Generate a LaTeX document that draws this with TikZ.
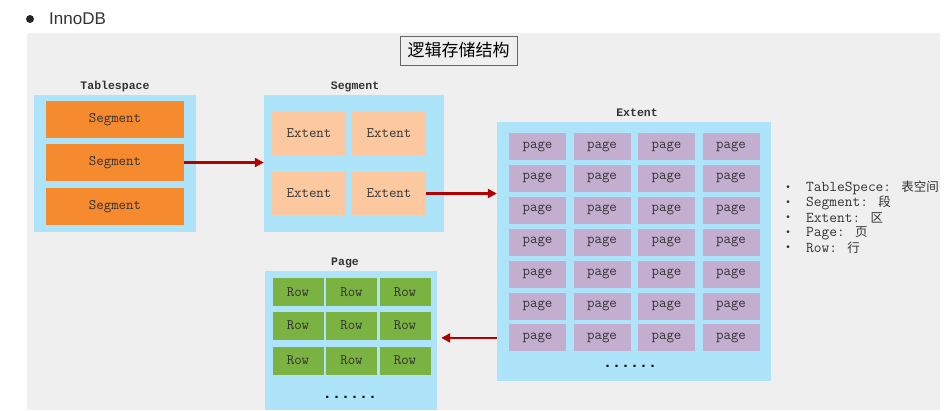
\documentclass[tikz,border=0pt]{standalone}
\usepackage{fontspec}
\setmainfont{Liberation Sans}
\newfontfamily\cjk{Noto Sans CJK SC}
\newfontfamily\mono{Liberation Mono}
\newfontfamily\serifmono{Latin Modern Mono}
\usetikzlibrary{arrows.meta}
\definecolor{panelgray}{HTML}{EFEFEF}
\definecolor{contblue}{HTML}{AEE4FA}
\definecolor{segorange}{HTML}{F58A2F}
\definecolor{extpeach}{HTML}{FCC8A0}
\definecolor{pagelav}{HTML}{C4AECF}
\definecolor{rowgreen}{HTML}{7AB342}
\definecolor{arrowred}{HTML}{B30000}
\definecolor{txtdark}{HTML}{333333}
\tikzset{
  cont/.style={fill=contblue, draw=none, inner sep=0pt},
  cell/.style={draw=none, inner sep=0pt, font=\serifmono\fontsize{14.5}{16}\selectfont, text=txtdark},
  segbox/.style={cell, fill=segorange, minimum width=138pt, minimum height=37pt},
  extbox/.style={cell, fill=extpeach, minimum width=74pt, minimum height=43pt},
  pagebox/.style={cell, fill=pagelav, minimum width=57pt, minimum height=27pt},
  rowbox/.style={cell, fill=rowgreen, minimum width=51pt, minimum height=28pt},
  lbl/.style={font=\mono\bfseries\fontsize{11.5}{13}\selectfont, text=txtdark, inner sep=0pt},
  dots/.style={font=\mono\bfseries\fontsize{15}{16}\selectfont, inner sep=0pt},
  flow/.style={draw=arrowred, line width=2.5pt, -{Triangle[length=9pt,width=9pt]}},
  leg/.style={anchor=west, inner sep=0pt, font=\serifmono\fontsize{15}{16}\selectfont, text=txtdark},
  legdot/.style={inner sep=0pt, font=\fontsize{10}{12}\selectfont, text=txtdark}
}
\begin{document}
\begin{tikzpicture}[x=1pt,y=-1pt]
\useasboundingbox (0,0) rectangle (950,410);
\fill[white] (0,0) rectangle (950,410);
\fill[panelgray] (27,33) rectangle (940,410);

% header
\fill[black!85] (30,19) circle (4pt);
\node[anchor=west, inner sep=0pt, font=\fontsize{17}{19}\selectfont, text=black!80] (hdr) at (49,19) {InnoDB};

% title
\node[draw=black!60, line width=0.8pt, fill=panelgray, minimum width=117pt, minimum height=29pt, inner sep=0pt, font=\cjk\fontsize{17}{19}\selectfont] (title) at (458.5,50.5) {逻辑存储结构};

% Tablespace
\node[cont, minimum width=162pt, minimum height=137pt] (ts) at (115,163.5) {};
\node[lbl] (tslbl) at (115,87) {Tablespace};
\node[segbox] (s1) at (115,119.5) {Segment};
\node[segbox] (s2) at (115,162.5) {Segment};
\node[segbox] (s3) at (115,206.5) {Segment};

% Segment
\node[cont, minimum width=180pt, minimum height=137pt] (sg) at (354,163.5) {};
\node[lbl] (sglbl) at (355,87) {Segment};
\node[extbox] (e11) at (309,133.5) {Extent};
\node[extbox] (e12) at (389,133.5) {Extent};
\node[extbox] (e21) at (309,193.5) {Extent};
\node[extbox] (e22) at (389,193.5) {Extent};

% Extent
\node[cont, minimum width=274pt, minimum height=259pt] (ex) at (634,251.5) {};
\node[lbl] (exlbl) at (637,113) {Extent};
\foreach \r in {1,...,7}{
  \foreach \c in {1,...,4}{
    \node[pagebox] (p\r\c) at ({537.5+64.5*(\c-1)},{146.5+31.9*(\r-1)}) {page};
  }
}
\node[dots] (exdots) at (630,366) {......};

% Page
\node[cont, minimum width=172pt, minimum height=139pt] (pg) at (351,340.5) {};
\node[lbl] (pglbl) at (345,263) {Page};
\foreach \r/\y in {1/292,2/325.5,3/360.5}{
  \foreach \c/\x in {1/298,2/351.5,3/405}{
    \node[rowbox] (r\r\c) at (\x,\y) {Row};
  }
}
\node[dots] (pgdots) at (350,397) {......};

% arrows
\draw[flow] (s2.east) -- (sg.west |- s2.east);
\draw[flow] (e22.east) -- (ex.west |- e22.east);
\draw[flow] (ex.west |- p71.west) -- ([xshift=4pt]pg.east |- p71.west);

% legend
\foreach \i/\y/\t in {1/188/{TableSpece: {\cjk\fontsize{12.5}{14}\selectfont 表空间}},2/203/{Segment: {\cjk\fontsize{12.5}{14}\selectfont 段}},3/218/{Extent: {\cjk\fontsize{12.5}{14}\selectfont 区}},4/233/{Page: {\cjk\fontsize{12.5}{14}\selectfont 页}},5/248/{Row: {\cjk\fontsize{12.5}{14}\selectfont 行}}}{
  \node[legdot] (ld\i) at (788,\y) {•};
  \node[leg] (lt\i) at (806,\y) {\t};
}
\end{tikzpicture}
\end{document}
